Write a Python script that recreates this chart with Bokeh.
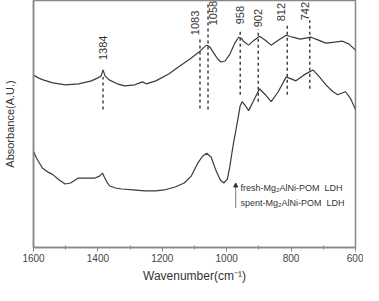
import math
from bokeh.plotting import figure
from bokeh.models import Range1d, FixedTicker, Arrow, NormalHead, ColumnDataSource
from bokeh.core.properties import value
from bokeh.embed import file_html
from bokeh.resources import INLINE

# fresh-Mg2AlNi-POM LDH (upper trace)
fresh_wn = [1600, 1585, 1570, 1540, 1500, 1460, 1420, 1400, 1390, 1384, 1378, 1365, 1340, 1317,
            1285, 1270, 1262, 1250, 1220, 1180, 1150, 1132, 1110, 1086, 1070, 1062, 1052, 1040,
            1028, 1018, 1005, 990, 975, 963, 955, 948, 932, 915, 898, 880, 862, 840, 815, 795,
            772, 755, 738, 715, 692, 665, 640, 620, 600]
fresh_ab = [174, 171, 169, 166, 164, 165, 168, 171, 173, 179, 173, 169, 165, 163,
            164, 166, 167, 165, 168, 175, 182, 186, 191, 197, 202, 204, 202, 196,
            190, 187, 188, 195, 206, 212, 211, 208, 204, 209, 213, 209, 204, 209, 214, 212,
            210, 211, 212, 209, 206, 207, 208, 205, 199]

# spent-Mg2AlNi-POM LDH (lower trace)
spent_wn = [1600, 1592, 1585, 1572, 1555, 1542, 1520, 1502, 1485, 1470, 1461, 1430, 1409,
            1395, 1386, 1380, 1372, 1363, 1345, 1326, 1290, 1255, 1220, 1194, 1160, 1132,
            1110, 1090, 1075, 1062, 1048, 1035, 1020, 1009, 998, 990, 983, 978, 972, 965,
            958, 952, 940, 932, 915, 898, 880, 862, 840, 815, 800, 785, 760, 732, 712, 692,
            670, 655, 640, 631, 615, 600]
spent_ab = [97, 91, 87, 80, 76, 74, 68, 64, 65, 68, 70, 70, 70,
            72, 75, 71, 66, 62, 60, 59, 58, 57, 57, 58, 61, 65,
            72, 85, 92, 95, 91, 79, 68, 65, 69, 82, 97, 107, 117, 130,
            143, 147, 142, 138, 149, 160, 154, 147, 157, 172, 170, 168, 174, 179, 172, 164,
            157, 154, 156, 157, 150, 139]

# peak annotations
peak_wn = [1384, 1083, 1058, 958, 902, 812, 742]
peak_labels = ["1384", "1083", "1058", "958", "902", "812", "742"]
peak_label_wn = [1384, 1098, 1043, 958, 902, 830, 757]
peak_dash_top = [172, 210, 245, 220, 220, 225, 229]
peak_dash_bottom = [139, 140, 139, 154, 147, 154, 160]
peak_label_base = [189, 214, 224, 225, 222, 228, 229]

x_ticks = [1600, 1400, 1200, 1000, 800, 600]
legend_names = ["fresh-Mg\u2082AlNi-POM\u00a0\u00a0LDH", "spent-Mg\u2082AlNi-POM\u00a0\u00a0LDH"]

FONT = "Liberation Sans"
INK = "#3a3a3a"

p = figure(width=363, height=285, output_backend="svg", toolbar_location=None,
           x_range=Range1d(1600, 600), y_range=Range1d(0, 249),
           min_border_left=30, min_border_right=8, min_border_top=0, min_border_bottom=36)
p.xgrid.visible = False
p.ygrid.visible = False
p.outline_line_color = "#888888"
p.outline_line_width = 1.5
p.background_fill_color = "white"
p.border_fill_color = "white"

# x axis
xa = p.xaxis[0]
xa.ticker = FixedTicker(ticks=x_ticks, minor_ticks=[1500, 1300, 1100, 900, 700])
xa.axis_line_color = "#888888"
xa.axis_line_width = 1.5
xa.major_tick_line_color = "#888888"
xa.minor_tick_line_color = "#888888"
xa.major_tick_in = 0
xa.major_tick_out = 4
xa.minor_tick_in = 2
xa.minor_tick_out = 2
xa.major_label_text_font = FONT
xa.major_label_text_font_size = "10px"
xa.major_label_text_color = "#444444"
xa.major_label_standoff = 2
xa.axis_label = "Wavenumber(cm\u207b\u00b9)"
xa.axis_label_text_font = FONT
xa.axis_label_text_font_size = "12px"
xa.axis_label_text_font_style = "normal"
xa.axis_label_text_color = "#333333"
xa.axis_label_standoff = 4

# y axis
ya = p.yaxis[0]
ya.ticker = FixedTicker(ticks=[])
ya.axis_line_color = "#888888"
ya.axis_line_width = 1.5
ya.major_tick_line_color = None
ya.minor_tick_line_color = None
ya.major_label_text_font_size = "0px"
ya.axis_label = "Absorbance(A.U.)"
ya.axis_label_text_font = FONT
ya.axis_label_text_font_size = "11px"
ya.axis_label_text_font_style = "normal"
ya.axis_label_text_color = "#333333"
ya.axis_label_standoff = 18

# traces
p.line(fresh_wn, fresh_ab, line_color=INK, line_width=1.2)
p.line(spent_wn, spent_ab, line_color=INK, line_width=1.2)

# peak markers
p.segment(x0=peak_wn, y0=peak_dash_bottom, x1=peak_wn, y1=peak_dash_top,
          line_color="#444444", line_width=1.5, line_dash="3 3")
src = ColumnDataSource(dict(x=peak_label_wn, y=peak_label_base, t=peak_labels))
p.text(x="x", y="y", text="t", source=src, angle=math.pi / 2,
       text_align="left", text_baseline="middle", text_font=value(FONT),
       text_font_size="11px", text_color="#333333")

# legend-like annotation
p.text(x=[957, 957], y=[60, 45], text=legend_names, text_align="left", text_baseline="middle",
       text_font=value(FONT), text_font_size="9px", text_color="#333333")
p.add_layout(Arrow(end=NormalHead(size=4, fill_color="#333333", line_color="#333333"),
                   x_start=972, y_start=40, x_end=972, y_end=65,
                   line_color="#555555", line_width=0.8))

open("out.html", "w").write(file_html(p, INLINE))
